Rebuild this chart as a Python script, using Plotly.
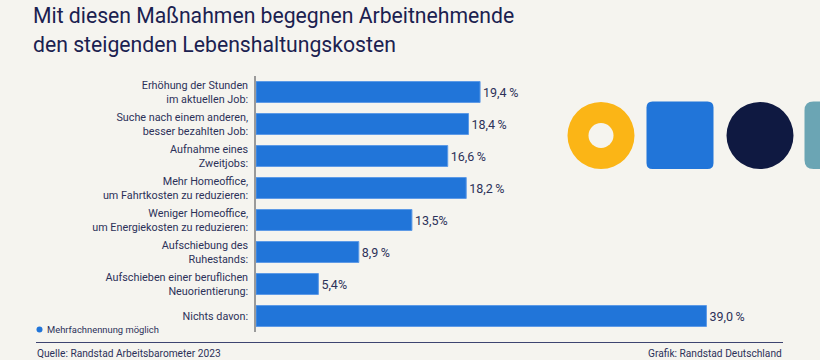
import plotly.graph_objects as go

categories = [
    "Erhöhung der Stunden<br>im aktuellen Job:",
    "Suche nach einem anderen,<br>besser bezahlten Job:",
    "Aufnahme eines<br>Zweitjobs:",
    "Mehr Homeoffice,<br>um Fahrtkosten zu reduzieren:",
    "Weniger Homeoffice,<br>um Energiekosten zu reduzieren:",
    "Aufschiebung des<br>Ruhestands:",
    "Aufschieben einer beruflichen<br>Neuorientierung:",
    "Nichts davon:",
]
values = [19.4, 18.4, 16.6, 18.2, 13.5, 8.9, 5.4, 39.0]
value_labels = ["19,4\u2009%", "18,4\u2009%", "16,6\u2009%", "18,2\u2009%", "13,5%", "8,9\u2009%", "5,4%", "39,0\u2009%"]

W, H = 820, 360
# outer plotting frame spans the footer rule (x 36..783, y 76..342)
L, R, T, B = 36, 37, 76, 18
PW, PH = W - L - R, H - T - B
# bar area inside the frame: x 256..718, y 76..332
BAR_X0, BAR_X1, BAR_YB = 256, 718, 332

def px(x):
    return (x - L) / PW

def py(y):
    return (H - B - y) / PH

FONT = "Roboto"
NAVY = "#1b2150"
TEXT = "#2c3159"
BLUE = "#2175d9"
BG = "#f5f4ef"

fig = go.Figure()
fig.add_trace(go.Bar(
    y=categories, x=values, orientation="h",
    marker=dict(color=BLUE, line=dict(color="#5d9ae6", width=1)),
    text=value_labels, textposition="outside", cliponaxis=False,
    constraintext="none",
    textfont=dict(family=FONT, size=12.5, color=TEXT),
    hoverinfo="skip",
))
# empty trace on the footer-rule axes so they are drawn
fig.add_trace(go.Scatter(x=[], y=[], xaxis="x2", yaxis="y2", hoverinfo="skip"))

shapes = []
def circ(cx, cy, r, color):
    return dict(type="circle", xref="paper", yref="paper",
                x0=px(cx - r), x1=px(cx + r), y0=py(cy + r), y1=py(cy - r),
                fillcolor=color, line=dict(width=0))

def rrect(x0, y0, x1, y1, rad):
    return ("M {a},{b} L {c},{b} Q {x1},{b} {x1},{d} L {x1},{e} Q {x1},{y1} {c},{y1} "
            "L {a},{y1} Q {x0},{y1} {x0},{e} L {x0},{d} Q {x0},{b} {a},{b} Z").format(
        a=px(x0 + rad), b=py(y0), c=px(x1 - rad), d=py(y0 + rad), e=py(y1 - rad),
        x0=px(x0), x1=px(x1), y1=py(y1))

cy = 135.5
shapes.append(circ(601, cy, 33.5, "#fbb516"))
shapes.append(circ(601, cy, 12.5, BG))
shapes.append(dict(type="path", xref="paper", yref="paper",
                   path=rrect(646.5, 101.5, 713.5, 169, 6), fillcolor=BLUE, line=dict(width=0)))
shapes.append(circ(760, cy, 33.5, "#0f1941"))
shapes.append(dict(type="path", xref="paper", yref="paper",
                   path=rrect(804.5, 101.5, 850, 169, 9), fillcolor="#6ba5b4", line=dict(width=0)))
shapes.append(circ(39.5, 329.5, 3, BLUE))

annotations = [
    dict(text="Mit diesen Maßnahmen begegnen Arbeitnehmende", x=px(31), y=py(15.5), xref="paper", yref="paper",
         xanchor="left", yanchor="middle", showarrow=False,
         font=dict(family=FONT, size=21.2, color=NAVY)),
    dict(text="den steigenden Lebenshaltungskosten", x=px(31), y=py(45), xref="paper", yref="paper",
         xanchor="left", yanchor="middle", showarrow=False,
         font=dict(family=FONT, size=21.2, color=NAVY)),
    dict(text="Mehrfachnennung möglich", x=px(45), y=py(329.5), xref="paper", yref="paper",
         xanchor="left", yanchor="middle", showarrow=False,
         font=dict(family=FONT, size=9.4, color=TEXT)),
    dict(text="Quelle: Randstad Arbeitsbarometer 2023", x=px(35), y=py(353.5), xref="paper", yref="paper",
         xanchor="left", yanchor="middle", showarrow=False,
         font=dict(family=FONT, size=10.2, color=TEXT)),
    dict(text="Grafik: Randstad Deutschland", x=px(784), y=py(353.5), xref="paper", yref="paper",
         xanchor="right", yanchor="middle", showarrow=False,
         font=dict(family=FONT, size=10.2, color=TEXT)),
]

fig.update_layout(
    width=W, height=H,
    margin=dict(l=L, r=R, t=T, b=B, pad=0),
    paper_bgcolor=BG, plot_bgcolor=BG,
    bargap=0.345,
    showlegend=False,
    shapes=shapes,
    annotations=annotations,
    xaxis=dict(domain=[px(BAR_X0), px(BAR_X1)], range=[0, 40], visible=False, fixedrange=True, anchor="y"),
    yaxis=dict(domain=[py(BAR_YB), 1], autorange="reversed", showgrid=False, zeroline=False,
               showline=True, linecolor="#9a9a9a", linewidth=1.5, anchor="x",
               ticks="", ticklabelstandoff=4, fixedrange=True,
               tickfont=dict(family=FONT, size=10.8, color=TEXT)),
    xaxis2=dict(domain=[0, 1], anchor="y2", showline=True, linecolor="#3d4470", linewidth=1.2,
                showgrid=False, zeroline=False, showticklabels=False, ticks="", fixedrange=True),
    yaxis2=dict(domain=[0, 0.02], anchor="x2", visible=False, fixedrange=True),
)

fig.write_html("out.html", config={"displayModeBar": False},
               post_script="document.body.style.margin='0px';document.body.style.overflow='hidden';")
